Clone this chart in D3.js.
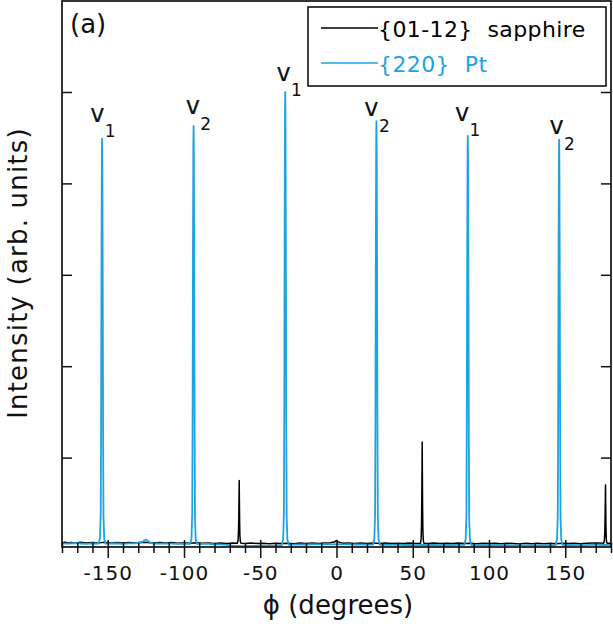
<!DOCTYPE html>
<html>
<head>
<meta charset="utf-8">
<script src="https://cdn.jsdelivr.net/npm/d3@7"></script>
<style>
  html, body { margin: 0; padding: 0; background: #fff; }
  svg { display: block; font-family: "DejaVu Sans", sans-serif; }
</style>
</head>
<body>
<svg id="chart" width="613" height="627"></svg>
<script>
// ---- phi scans (intensity in arbitrary units) ----

// {01-12} sapphire: baseline samples
const sapphireBaseline = [
  [-180,0.068],[-178,0.074],[-176,0.066],[-174,0.072],[-172,0.064],[-168,0.073],[-164,0.066],
  [-160,0.072],[-156,0.067],[-152,0.074],[-148,0.065],[-144,0.071],[-140,0.066],[-136,0.072],
  [-132,0.067],[-128,0.074],[-124,0.070],[-120,0.066],[-116,0.072],[-112,0.065],[-108,0.070],
  [-104,0.064],[-100,0.069],[-96,0.063],[-92,0.068],[-88,0.062],[-84,0.067],[-80,0.061],
  [-76,0.066],[-72,0.060],[-68,0.065],[-60,0.060],[-56,0.066],[-52,0.059],[-48,0.064],
  [-44,0.058],[-40,0.064],[-36,0.059],[-32,0.064],[-28,0.058],[-24,0.065],[-20,0.060],
  [-16,0.066],[-12,0.061],[-8,0.067],[-4,0.068],[-1,0.080],[0,0.094],[1,0.078],[4,0.064],
  [8,0.066],[12,0.060],[16,0.066],[20,0.059],[24,0.065],[28,0.060],[32,0.066],[36,0.059],
  [40,0.064],[44,0.060],[48,0.065],[52,0.060],[60,0.060],[64,0.066],[68,0.059],[72,0.064],
  [76,0.060],[80,0.065],[84,0.059],[88,0.064],[92,0.058],[96,0.063],[100,0.059],[104,0.064],
  [108,0.058],[112,0.063],[116,0.059],[120,0.056],[124,0.062],[128,0.057],[132,0.063],
  [136,0.058],[140,0.062],[144,0.057],[148,0.063],[152,0.059],[156,0.064],[160,0.058],
  [164,0.063],[168,0.065],[172,0.067],[180,0.064]
];

// {01-12} sapphire: reflection profiles
const sapphirePeaks = [
  [[-65.0,0.064],[-64.5,0.10],[-64.25,0.20],[-64.05,0.38],[-63.9,0.58],[-63.8,0.75],
   [-63.7,0.56],[-63.55,0.32],[-63.35,0.15],[-63.05,0.08],[-62.6,0.063]],
  [[55.0,0.062],[55.5,0.11],[55.75,0.26],[55.95,0.58],[56.1,0.92],[56.2,1.17],
   [56.3,0.86],[56.45,0.46],[56.65,0.20],[56.95,0.09],[57.4,0.061]],
  [[175.2,0.064],[175.7,0.10],[175.95,0.19],[176.15,0.36],[176.3,0.55],[176.4,0.70],
   [176.5,0.52],[176.65,0.28],[176.85,0.13],[177.15,0.07],[177.6,0.063]]
];

// {220} Pt: baseline samples
const ptBaseline = [
  [-180,0.062],[-176,0.058],[-172,0.064],[-168,0.060],[-164,0.057],[-160,0.061],[-156,0.059],
  [-148,0.062],[-144,0.060],[-140,0.057],[-136,0.061],[-132,0.063],[-128,0.072],[-126,0.092],
  [-125,0.105],[-124,0.090],[-122,0.068],[-120,0.060],[-116,0.058],[-112,0.061],[-108,0.059],
  [-104,0.057],[-100,0.060],[-96,0.058],[-88,0.055],[-84,0.056],[-80,0.052],[-76,0.050],
  [-72,0.045],[-68,0.038],[-64,0.034],[-60,0.032],[-56,0.035],[-52,0.033],[-48,0.036],
  [-44,0.034],[-40,0.038],[-36,0.042],[-28,0.047],[-24,0.050],[-20,0.049],[-16,0.052],
  [-12,0.050],[-8,0.053],[-4,0.051],[0,0.054],[4,0.050],[8,0.052],[12,0.049],[16,0.051],
  [20,0.048],[32,0.048],[36,0.045],[40,0.047],[44,0.044],[48,0.046],[52,0.043],[56,0.045],
  [60,0.044],[64,0.046],[68,0.043],[72,0.045],[76,0.044],[80,0.046],[92,0.046],[96,0.043],
  [100,0.045],[104,0.042],[108,0.044],[112,0.043],[116,0.040],[120,0.042],[124,0.039],
  [128,0.041],[132,0.040],[136,0.043],[140,0.041],[152,0.045],[156,0.042],[160,0.044],
  [164,0.043],[168,0.045],[172,0.046],[176,0.044],[180,0.045]
];

// {220} Pt: reflection profiles
const ptPeaks = [
  [[-156.0,0.060],[-155.1,0.12],[-154.6,0.40],[-154.35,1.45],[-154.1,3.2],[-153.85,4.30],[-153.7,4.49],
   [-153.55,4.20],[-153.3,3.0],[-153.05,1.3],[-152.8,0.35],[-152.3,0.11],[-151.4,0.058]],
  [[-96.0,0.057],[-95.1,0.11],[-94.6,0.38],[-94.35,1.5],[-94.1,3.3],[-93.85,4.45],[-93.7,4.63],
   [-93.55,4.35],[-93.3,3.1],[-93.05,1.35],[-92.8,0.34],[-92.3,0.10],[-91.4,0.056]],
  [[-35.9,0.043],[-35.0,0.10],[-34.5,0.39],[-34.25,1.6],[-34.0,3.5],[-33.75,4.8],[-33.6,5.00],
   [-33.45,4.7],[-33.2,3.3],[-32.95,1.4],[-32.7,0.36],[-32.2,0.10],[-31.3,0.046]],
  [[23.9,0.047],[24.8,0.11],[25.3,0.38],[25.55,1.5],[25.8,3.3],[26.05,4.5],[26.2,4.68],
   [26.35,4.4],[26.6,3.1],[26.85,1.3],[27.1,0.35],[27.6,0.10],[28.5,0.046]],
  [[83.8,0.045],[84.7,0.11],[85.2,0.37],[85.45,1.45],[85.7,3.2],[85.95,4.35],[86.1,4.52],
   [86.25,4.25],[86.5,3.0],[86.75,1.3],[87.0,0.34],[87.5,0.10],[88.4,0.044]],
  [[143.7,0.043],[144.6,0.11],[145.1,0.37],[145.35,1.4],[145.6,3.2],[145.85,4.3],[146.0,4.48],
   [146.15,4.2],[146.4,3.0],[146.65,1.3],[146.9,0.34],[147.4,0.10],[148.3,0.044]]
];

// variant labels: letter, subscript, anchor in data coordinates (phi, intensity)
const variantNames = ["v", "v", "v", "v", "v", "v"];
const variantSubs = ["1", "2", "1", "2", "1", "2"];
const variantPhi = [-156.9, -94.2, -34.7, 22.9, 82.3, 144.3];
const variantI = [4.672, 4.756, 5.124, 4.737, 4.686, 4.540];

const xMajorTicks = [-150, -100, -50, 0, 50, 100, 150];
const yTicks = [1, 2, 3, 4, 5];
const legendLabels = ["{01-12}  sapphire", "{220}  Pt"];

// ---- drawing ----
const svg = d3.select("#chart");
const ink = "#111";
const blue = "#1ba4e0";

const x = d3.scaleLinear().domain([-180, 180]).range([62, 611]);
const y = d3.scaleLinear().domain([0, 6]).range([549, 0.6]);
const axisY = 547;

// merge baseline samples and peak profiles into one sorted scan
function buildScan(baseline, peaks, halfWidth) {
  const centres = peaks.map(p => p[d3.maxIndex(p, d => d[1])][0]);
  const kept = baseline.filter(d => centres.every(c => Math.abs(d[0] - c) > halfWidth));
  return kept.concat(...peaks).sort((a, b) => a[0] - b[0]);
}
const sapphireScan = buildScan(sapphireBaseline, sapphirePeaks, 1.4);
const ptScan = buildScan(ptBaseline, ptPeaks, 2.4);

const line = d3.line().x(d => x(d[0])).y(d => y(d[1]));

svg.append("path").datum(sapphireScan)
  .attr("d", line).attr("fill", "none")
  .attr("stroke", "#000").attr("stroke-width", 1.5).attr("stroke-linejoin", "round");

svg.append("path").datum(ptScan)
  .attr("d", line).attr("fill", "none")
  .attr("stroke", blue).attr("stroke-width", 1.8).attr("stroke-linejoin", "round");

// frame
svg.append("rect")
  .attr("x", x(-180)).attr("y", 1)
  .attr("width", x(180) - x(-180)).attr("height", axisY - 1)
  .attr("fill", "none").attr("stroke", ink).attr("stroke-width", 1.7);

// bottom axis: minor ticks every 10 degrees, major every 50 with labels
const minorTicks = d3.range(-180, 181, 10).filter(v => !xMajorTicks.includes(v));
const gMinor = svg.append("g").attr("transform", `translate(0,${axisY})`)
  .call(d3.axisBottom(x).tickValues(minorTicks).tickSize(6).tickFormat(""));
gMinor.select(".domain").remove();
gMinor.selectAll(".tick line").attr("y1", -4).attr("stroke", ink).attr("stroke-width", 1.5);

const gMajor = svg.append("g").attr("transform", `translate(0,${axisY})`)
  .call(d3.axisBottom(x).tickValues(xMajorTicks).tickSize(11).tickFormat(d => String(d)));
gMajor.select(".domain").remove();
gMajor.selectAll(".tick line").attr("y1", -7).attr("stroke", ink).attr("stroke-width", 1.5);
gMajor.selectAll(".tick text")
  .attr("y", 33).attr("dy", 0)
  .attr("fill", ink)
  .style("font-family", "'DejaVu Sans', sans-serif")
  .style("font-size", "20px")
  .style("letter-spacing", "1px");

// left and right ticks pointing inward, no labels
const gLeft = svg.append("g").attr("transform", `translate(${x(-180)},0)`)
  .call(d3.axisRight(y).tickValues(yTicks).tickSize(10).tickFormat(""));
gLeft.select(".domain").remove();
gLeft.selectAll(".tick line").attr("stroke", ink).attr("stroke-width", 1.5);

const gRight = svg.append("g").attr("transform", `translate(${x(180)},0)`)
  .call(d3.axisLeft(y).tickValues(yTicks).tickSize(10).tickFormat(""));
gRight.select(".domain").remove();
gRight.selectAll(".tick line").attr("stroke", ink).attr("stroke-width", 1.5);

// axis titles
svg.append("text")
  .attr("x", 338).attr("y", 614)
  .attr("text-anchor", "middle")
  .attr("fill", ink)
  .style("font-size", "26px")
  .text("ϕ (degrees)");

svg.append("text")
  .attr("transform", "translate(27,273) rotate(-90)")
  .attr("text-anchor", "middle")
  .attr("fill", ink)
  .style("font-size", "26px")
  .style("letter-spacing", "1.2px")
  .text("Intensity (arb. units)");

// panel tag
svg.append("text")
  .attr("x", 70).attr("y", 33)
  .attr("fill", ink)
  .style("font-size", "26px")
  .text("(a)");

// variant labels v1 / v2 above the Pt reflections
const labels = svg.append("g").selectAll("g")
  .data(variantNames.map((n, i) => ({ n, s: variantSubs[i], phi: variantPhi[i], I: variantI[i] })))
  .join("g")
  .attr("transform", d => `translate(${x(d.phi)},${y(d.I)})`);
labels.append("text")
  .attr("text-anchor", "middle")
  .attr("fill", ink)
  .attr("stroke", ink).attr("stroke-width", 0.15)
  .style("font-size", "24px")
  .text(d => d.n);
labels.append("text")
  .attr("x", 7.5).attr("y", 15.5)
  .attr("fill", ink)
  .style("font-size", "17px")
  .text(d => d.s);

// legend
const legend = svg.append("g");
legend.append("rect")
  .attr("x", 308).attr("y", 7).attr("width", 298).attr("height", 79)
  .attr("fill", "#fff").attr("stroke", ink).attr("stroke-width", 1.6);
const legendColours = ["#000", blue];
legendLabels.forEach((label, i) => {
  const ly = 28 + i * 35;
  legend.append("line")
    .attr("x1", 321).attr("x2", 378).attr("y1", ly).attr("y2", ly)
    .attr("stroke", legendColours[i]).attr("stroke-width", 1.5);
  legend.append("text")
    .attr("x", 378).attr("y", ly + 8.5)
    .attr("fill", legendColours[i])
    .style("font-size", "22px")
    .style("letter-spacing", "0.4px")
    .style("white-space", "pre")
    .text(label);
});
</script>
</body>
</html>
